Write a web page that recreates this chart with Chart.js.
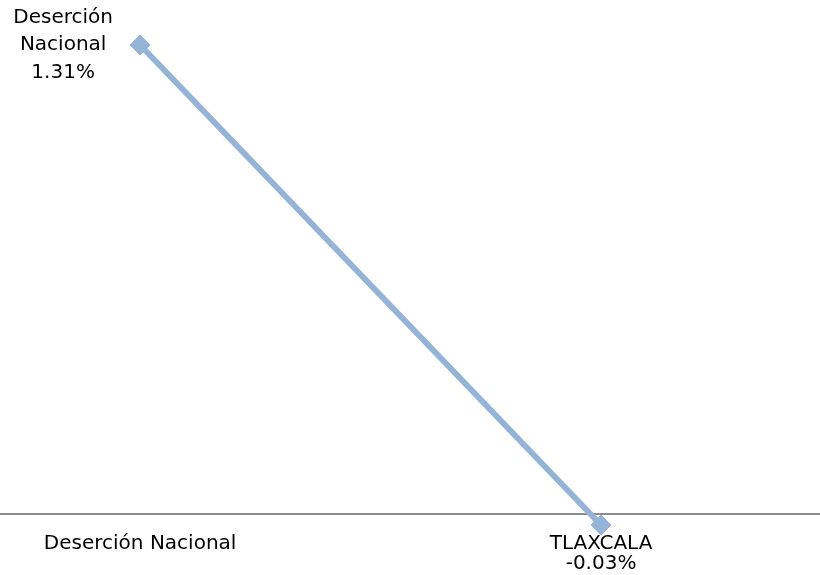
<!DOCTYPE html>
<html>
<head>
<meta charset="utf-8">
<script src="https://cdn.jsdelivr.net/npm/chart.js@4"></script>
<style>
  html, body { margin: 0; padding: 0; background: #fff; }
  #wrap { width: 820px; height: 575px; }
</style>
</head>
<body>
<div id="wrap"><canvas id="desercionChart"></canvas></div>
<script>
const categories = ['Deserción Nacional', 'TLAXCALA'];
const values = [1.31, -0.03];
const pointLabels = [['Deserción', 'Nacional', '1.31%'], ['-0.03%']];

const lineColor = '#95B3D7';
const fontFamily = '"DejaVu Sans", sans-serif';

// labels next to each point, like the excel data labels
const pointLabelPlugin = {
    id: 'pointLabels',
    afterDatasetsDraw(chart) {
        const ctx = chart.ctx;
        const meta = chart.getDatasetMeta(0);
        ctx.save();
        ctx.font = '20px ' + fontFamily;
        ctx.fillStyle = '#000';
        ctx.textAlign = 'center';
        ctx.textBaseline = 'middle';
        meta.data.forEach(function (pt, i) {
            const lines = pointLabels[i];
            if (i === 0) {
                // left of the point, centred vertically
                const lh = 27.5;
                const y0 = pt.y - (lines.length - 1) * lh / 2;
                lines.forEach(function (t, k) {
                    ctx.fillText(t, pt.x - 77, y0 + k * lh);
                });
            } else {
                // under the point, below the tick label
                lines.forEach(function (t, k) {
                    ctx.fillText(t, pt.x, pt.y + 39 + k * 20);
                });
            }
        });
        ctx.restore();
    }
};

let desercionChart = new Chart('desercionChart', {
    type: 'line',
    data: {
        datasets: [{
            label: 'Deserción',
            data: categories.map((c, i) => ({ x: i, y: values[i] })),
            borderColor: lineColor,
            backgroundColor: lineColor,
            borderWidth: 6,
            pointStyle: 'rectRot',
            pointRadius: 10,
            pointBorderWidth: 1,
            pointHoverRadius: 10,
            fill: false,
            tension: 0,
            clip: false
        }]
    },
    options: {
        responsive: true,
        maintainAspectRatio: false,
        animation: false,
        layout: { padding: 0, autoPadding: false },
        plugins: {
            legend: { display: false },
            tooltip: { enabled: false }
        },
        scales: {
            x: {
                type: 'linear',
                position: { y: 0 },
                min: -0.304,
                max: 1.475,
                afterBuildTicks: function (axis) {
                    axis.ticks = categories.map((c, i) => ({ value: i }));
                },
                grid: { display: false, drawTicks: false },
                border: { display: true, color: '#8C8C8C', width: 2 },
                ticks: {
                    padding: 18,
                    maxRotation: 0,
                    autoSkip: false,
                    color: '#000',
                    font: { family: fontFamily, size: 20 },
                    callback: function (v) { return categories[v]; }
                }
            },
            y: {
                display: false,
                min: -0.1697,
                max: 1.4356
            }
        }
    },
    plugins: [pointLabelPlugin]
});
</script>
</body>
</html>
